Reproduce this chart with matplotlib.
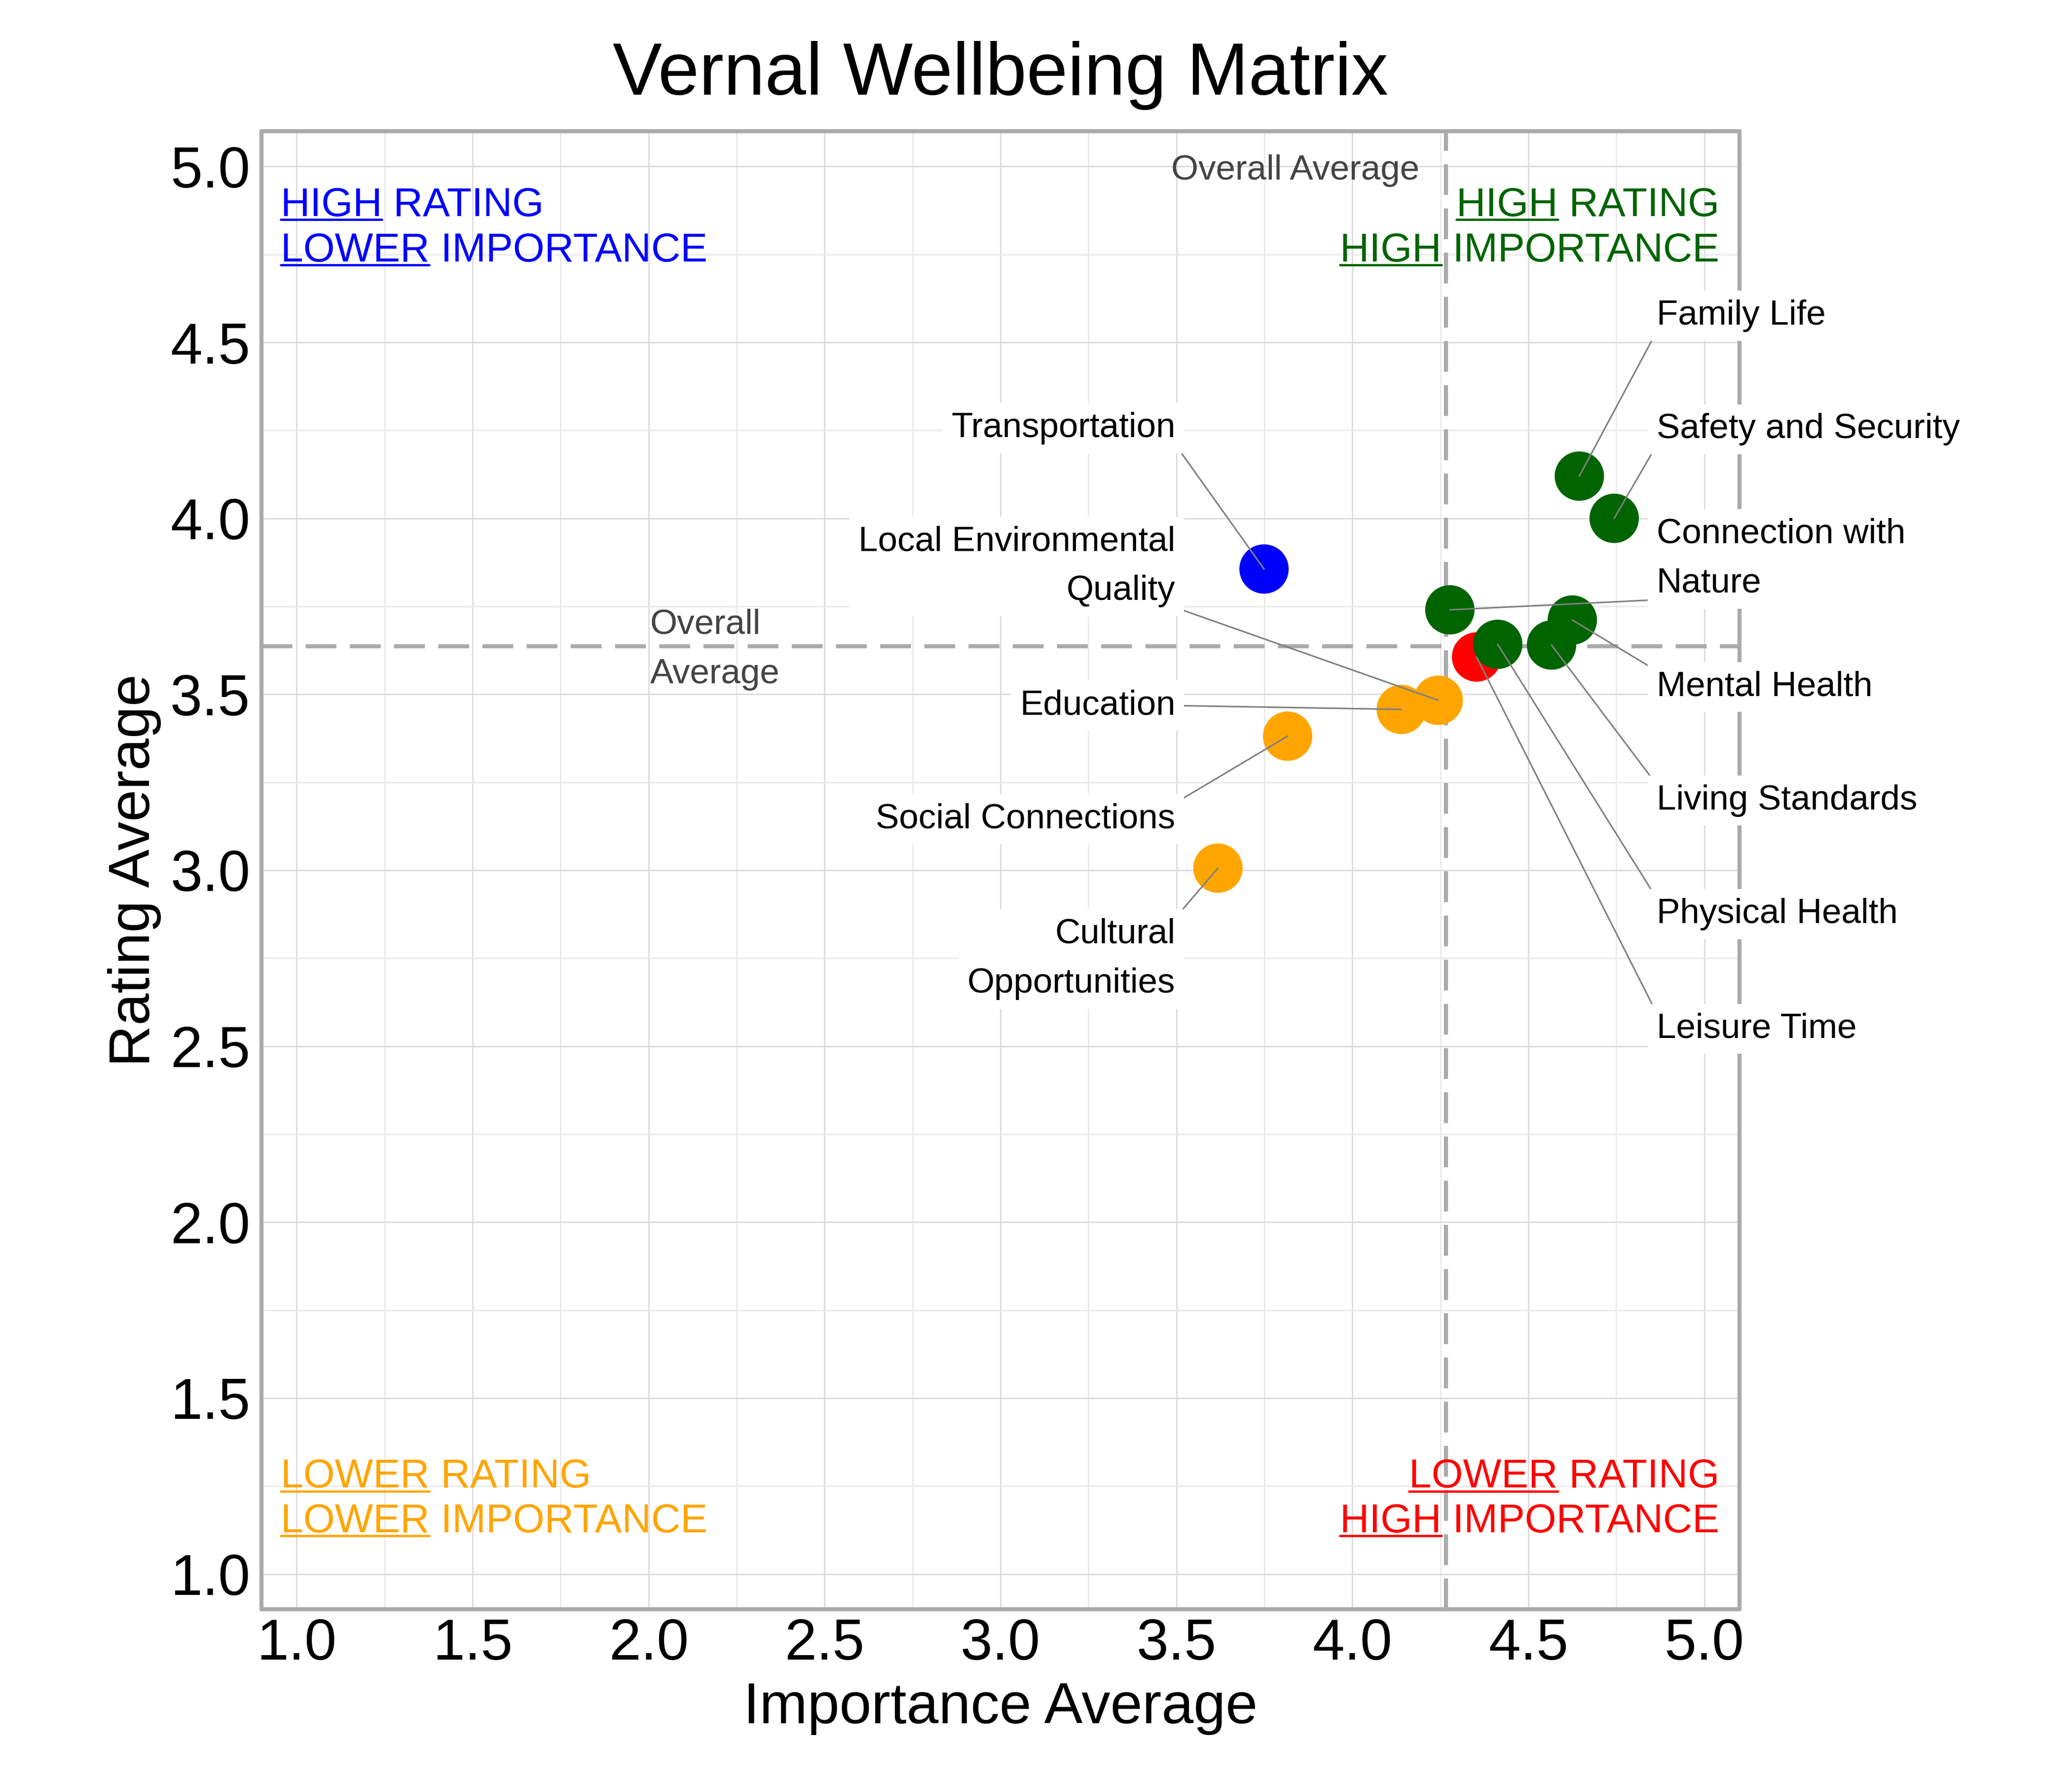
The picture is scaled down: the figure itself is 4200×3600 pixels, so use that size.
import textwrap

import matplotlib
matplotlib.use('Agg')
import matplotlib.pyplot as plt
import numpy as np

plt.rcParams['font.family'] = ['Liberation Sans', 'DejaVu Sans']

# survey results: mean importance vs mean rating per area
categories = ['Family Life', 'Safety and Security', 'Transportation', 'Connection with Nature',
              'Mental Health', 'Leisure Time', 'Physical Health', 'Living Standards',
              'Education', 'Local Environmental Quality', 'Social Connections',
              'Cultural Opportunities']
importance = [4.645, 4.744, 3.749, 4.277, 4.625, 4.353, 4.413, 4.566, 4.139, 4.244, 3.816, 3.618]
rating = [4.120, 4.000, 3.856, 3.740, 3.711, 3.606, 3.642, 3.640, 3.457, 3.483, 3.381, 3.006]

# where the repelled labels sit (layout only)
label_y = [4.576, 4.253, 4.256, 3.885, 3.521, 2.549, 2.875, 3.198, 3.468, 3.863, 3.145, 2.748]

tick_values = [1.0, 1.5, 2.0, 2.5, 3.0, 3.5, 4.0, 4.5, 5.0]

# quadrant captions: (first word underlined, rest)
caption_tl = [('HIGH', 'RATING'), ('LOWER', 'IMPORTANCE')]
caption_tr = [('HIGH', 'RATING'), ('HIGH', 'IMPORTANCE')]
caption_bl = [('LOWER', 'RATING'), ('LOWER', 'IMPORTANCE')]
caption_br = [('LOWER', 'RATING'), ('HIGH', 'IMPORTANCE')]

GREEN, BLUE, ORANGE, RED = '#006400', '#0000ff', '#ffa500', '#ff0000'
FRAME = '#aaaaaa'

x = np.array(importance)
y = np.array(rating)
avg_x = x.mean()
avg_y = y.mean()

colors = []
for xi, yi in zip(x, y):
    if yi >= avg_y:
        colors.append(GREEN if xi >= avg_x else BLUE)
    else:
        colors.append(RED if xi >= avg_x else ORANGE)

fig = plt.figure(figsize=(14, 12), dpi=300)
ax = fig.add_axes([0.1262, 0.0939, 0.7133, 0.8322])
ax.set_xlim(0.9, 5.1)
ax.set_ylim(0.9, 5.1)

ax.set_xticks(tick_values)
ax.set_yticks(tick_values)
ax.set_xticks(np.arange(1.25, 5.0, 0.5), minor=True)
ax.set_yticks(np.arange(1.25, 5.0, 0.5), minor=True)
ax.set_xticklabels([f'{v:.1f}' for v in tick_values])
ax.set_yticklabels([f'{v:.1f}' for v in tick_values])
ax.tick_params(which='both', length=0)
ax.tick_params(axis='x', labelsize=28, pad=4)
ax.tick_params(axis='y', labelsize=28, pad=5.5)
ax.grid(which='major', color='#dcdcdc', lw=0.7)
ax.grid(which='minor', color='#ebebeb', lw=0.7)
ax.set_axisbelow(True)
for sp in ax.spines.values():
    sp.set_color(FRAME)
    sp.set_linewidth(2.0)
    sp.set_capstyle('round')

ax.set_title('Vernal Wellbeing Matrix', fontsize=36, pad=17.8)
ax.set_xlabel('Importance Average', fontsize=28, va='baseline')
ax.xaxis.set_label_coords(0.5, -0.0771)
ax.set_ylabel('Rating Average', fontsize=28, va='baseline', rotation_mode='anchor')
ax.yaxis.set_label_coords(-0.0758, 0.5)

# average lines
ax.axvline(avg_x, color=FRAME, lw=2, dashes=(7.5, 3.25), zorder=1.5)
ax.axhline(avg_y, color=FRAME, lw=2, dashes=(7.5, 3.25), zorder=1.5)
ax.text(avg_x - 0.075, 4.962, 'Overall Average', color='#444444', fontsize=17,
        ha='right', va='baseline')
ax.text(2.004, avg_y - 0.01, 'Overall\nAverage', color='#444444', fontsize=17,
        ha='left', va='center', linespacing=1.67)

ax.scatter(x, y, s=576, c=colors, linewidths=0, zorder=2)

renderer = fig.canvas.get_renderer()

# labels with leader lines, joined at the nearest corner / edge midpoint
for name, xi, yi, ly in zip(categories, x, y, label_y):
    label = textwrap.fill(name, 20)
    if xi >= avg_x:
        lx, ha = 4.864, 'left'
    else:
        lx, ha = 3.497, 'right'
    tmp = ax.text(lx, ly, label, fontsize=17, ha=ha, va='center', linespacing=1.67)
    bb = tmp.get_window_extent(renderer)
    tmp.remove()
    px, py = ax.transData.transform((xi, yi))
    cands = [(rx, ry) for rx in (0, 0.5, 1) for ry in (0, 0.5, 1) if (rx, ry) != (0.5, 0.5)]
    rp = min(cands, key=lambda r: np.hypot(bb.x0 + r[0] * bb.width - px,
                                           bb.y0 + r[1] * bb.height - py))
    ax.annotate(label, xy=(xi, yi), xytext=(lx, ly), fontsize=17, ha=ha, va='center',
                linespacing=1.67, zorder=3,
                bbox=dict(boxstyle='square,pad=0.25', fc='white', ec='none'),
                arrowprops=dict(arrowstyle='-', color='#7f7f7f', lw=0.75,
                                shrinkA=0, shrinkB=0, relpos=rp))


def caption_line(xpos, ypos, first, rest, color, ha):
    t = ax.text(xpos, ypos, first + ' ' + rest, color=color, fontsize=19.75,
                ha=ha, va='baseline', zorder=3)
    bb = t.get_window_extent(renderer)
    probe = ax.text(0, 0, first, fontsize=19.75)
    w = probe.get_window_extent(renderer).width
    probe.remove()
    base = ax.transData.transform((xpos, ypos))[1]
    inv = ax.transData.inverted()
    (u0, v0), (u1, v1) = inv.transform([(bb.x0, base - 7.5), (bb.x0 + w, base - 7.5)])
    ax.plot([u0, u1], [v0, v1], color=color, lw=1.1, solid_capstyle='round',
            clip_on=False, zorder=3)


for (first, rest), yy in zip(caption_tl, [4.859, 4.730]):
    caption_line(0.954, yy, first, rest, BLUE, 'left')
for (first, rest), yy in zip(caption_tr, [4.859, 4.730]):
    caption_line(5.043, yy, first, rest, GREEN, 'right')
for (first, rest), yy in zip(caption_bl, [1.246, 1.119]):
    caption_line(0.954, yy, first, rest, ORANGE, 'left')
for (first, rest), yy in zip(caption_br, [1.246, 1.119]):
    caption_line(5.043, yy, first, rest, RED, 'right')

fig.savefig('out.png', dpi=300)
